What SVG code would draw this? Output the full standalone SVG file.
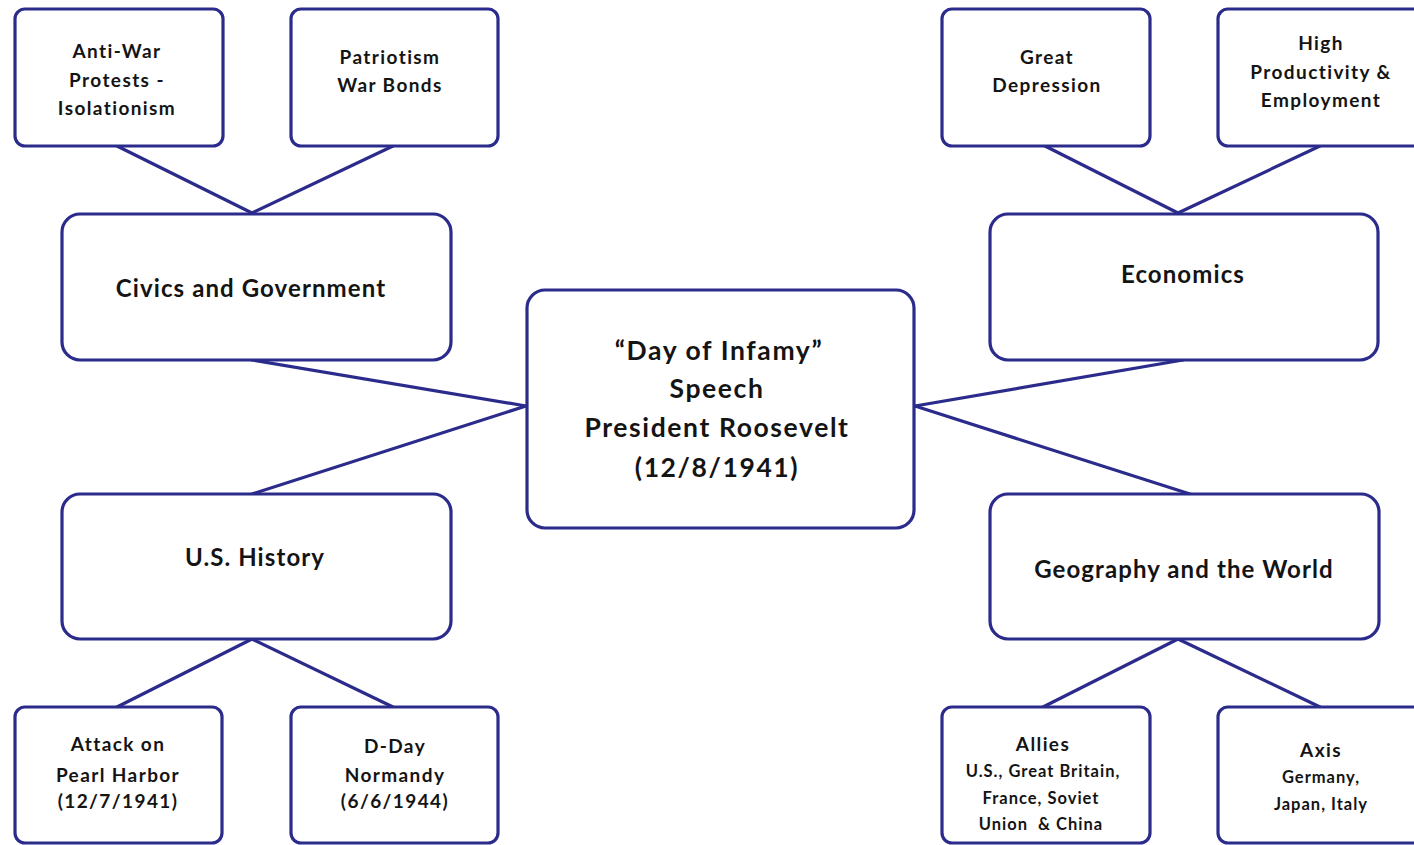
<svg xmlns="http://www.w3.org/2000/svg" width="1414" height="845" viewBox="0 0 1414 845">
<style>
.box{fill:#fff;stroke:#2b2b8c;stroke-width:3.2}
.con line{stroke:#2b2b8c;stroke-width:3.2;stroke-linecap:round}
text{font-family:Lato,"Open Sans","Liberation Sans",sans-serif;font-weight:bold;fill:#141414;text-anchor:middle}
.s{font-size:19px;letter-spacing:1.4px}
.xs{font-size:16.5px;letter-spacing:1px}
.m{font-size:24px;letter-spacing:1.1px}
.l{font-size:26.5px;letter-spacing:1.6px}
</style>
<rect width="1414" height="845" fill="#fff"/>
<g class="con" id="connectors">
<line x1="117" y1="146" x2="252" y2="213"/>
<line x1="393" y1="146" x2="252" y2="213"/>
<line x1="252" y1="360" x2="526" y2="406"/>
<line x1="526" y1="406" x2="252" y2="494"/>
<line x1="252" y1="639" x2="117" y2="707"/>
<line x1="252" y1="639" x2="393" y2="707"/>
<line x1="1045" y1="146" x2="1178" y2="213"/>
<line x1="1320" y1="146" x2="1178" y2="213"/>
<line x1="1183" y1="360" x2="915" y2="406"/>
<line x1="915" y1="406" x2="1190" y2="494"/>
<line x1="1178" y1="639" x2="1043" y2="707"/>
<line x1="1178" y1="639" x2="1320" y2="707"/>
</g>
<g id="center">
<rect class="box" x="527" y="290" width="387" height="238" rx="18"/>
<text class="l" x="719" y="360">“Day of Infamy”</text>
<text class="l" x="717" y="398">Speech</text>
<text class="l" x="717" y="437">President Roosevelt</text>
<text class="l" x="717" y="477">(12/8/1941)</text>
</g>
<g id="civics">
<rect class="box" x="62" y="214" width="389" height="146" rx="18"/>
<text class="m" x="251" y="297">Civics and Government</text>
</g>
<g id="antiwar">
<rect class="box" x="15" y="9" width="208" height="137" rx="10"/>
<text class="s" x="117" y="58">Anti-War</text>
<text class="s" x="117" y="87">Protests -</text>
<text class="s" x="117" y="115">Isolationism</text>
</g>
<g id="patriotism">
<rect class="box" x="291" y="9" width="207" height="137" rx="10"/>
<text class="s" x="390" y="64">Patriotism</text>
<text class="s" x="390" y="92">War Bonds</text>
</g>
<g id="ushistory">
<rect class="box" x="62" y="494" width="389" height="145" rx="18"/>
<text class="m" x="255" y="566">U.S. History</text>
</g>
<g id="pearlharbor">
<rect class="box" x="15" y="707" width="207" height="136" rx="10"/>
<text class="s" x="118" y="751">Attack on</text>
<text class="s" x="118" y="782">Pearl Harbor</text>
<text class="s" x="118" y="808">(12/7/1941)</text>
</g>
<g id="dday">
<rect class="box" x="291" y="707" width="207" height="136" rx="10"/>
<text class="s" x="395" y="753">D-Day</text>
<text class="s" x="395" y="782">Normandy</text>
<text class="s" x="395" y="808">(6/6/1944)</text>
</g>
<g id="economics">
<rect class="box" x="990" y="214" width="388" height="146" rx="18"/>
<text class="m" x="1183" y="283">Economics</text>
</g>
<g id="depression">
<rect class="box" x="942" y="9" width="208" height="137" rx="10"/>
<text class="s" x="1047" y="64">Great</text>
<text class="s" x="1047" y="92">Depression</text>
</g>
<g id="productivity">
<rect class="box" x="1218" y="9" width="230" height="137" rx="10"/>
<text class="s" x="1321" y="50">High</text>
<text class="s" x="1321" y="79">Productivity &amp;</text>
<text class="s" x="1321" y="107">Employment</text>
</g>
<g id="geography">
<rect class="box" x="990" y="494" width="389" height="145" rx="18"/>
<text class="m" x="1184" y="578">Geography and the World</text>
</g>
<g id="allies">
<rect class="box" x="942" y="707" width="208" height="136" rx="10"/>
<text class="s" x="1043" y="751">Allies</text>
<text class="xs" x="1043" y="777">U.S., Great Britain,</text>
<text class="xs" x="1041" y="804">France, Soviet</text>
<text class="xs" x="1041" y="830">Union&#160; &amp; China</text>
</g>
<g id="axis">
<rect class="box" x="1218" y="707" width="230" height="136" rx="10"/>
<text class="s" x="1321" y="757">Axis</text>
<text class="xs" x="1321" y="783">Germany,</text>
<text class="xs" x="1321" y="810">Japan, Italy</text>
</g>
</svg>
